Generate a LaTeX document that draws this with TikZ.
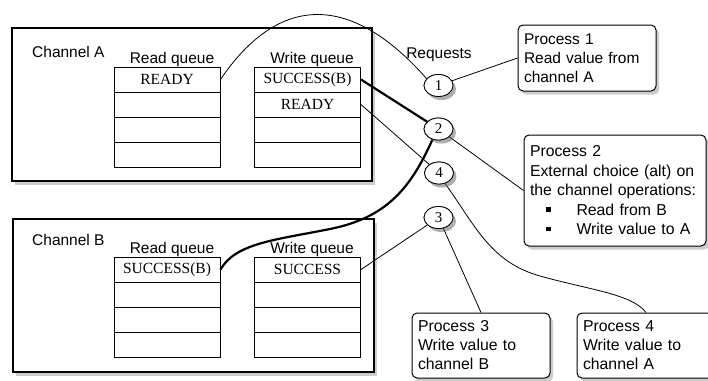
\documentclass[tikz,border=0pt]{standalone}
\usepackage{fontspec}
\setmainfont{Liberation Serif}
\setsansfont{Liberation Sans}
\usetikzlibrary{shapes.geometric}
\usetikzlibrary{shadows}

\tikzset{
    shade/.style={drop shadow={opacity=0.4,shadow xshift=3pt,shadow yshift=-3.5pt}},
    chanbox/.style={draw=black, line width=1.1pt, fill=white, shade},
    cell/.style={draw=black, line width=0.9pt, minimum width=106pt, minimum height=25pt,
        inner sep=0pt, font=\rmfamily\fontsize{15.5}{18}\selectfont},
    lbl/.style={inner sep=0pt, font=\sffamily\fontsize{15.5}{18}\selectfont},
    req/.style={ellipse, draw=black, line width=0.8pt, fill=white, minimum width=29pt,
        minimum height=22pt, inner sep=0pt, font=\rmfamily\fontsize{15}{18}\selectfont, shade},
    procbox/.style={draw=black, line width=1pt, fill=white, rounded corners=5pt, align=left,
        inner xsep=6pt, inner ysep=0pt, font=\sffamily\fontsize{15.5}{19}\selectfont, shade},
    link/.style={line width=0.8pt},
    boldlink/.style={line width=2.2pt}
}

\newcommand{\bulletitem}[1]{\hspace*{16pt}\rule[3.5pt]{4.5pt}{4.5pt}\hspace{26pt}#1}

\begin{document}
\begin{tikzpicture}[x=1pt,y=-1pt]
        \clip (0,0) rectangle (708,380);
        % channels
        \draw[chanbox] (12,28) rectangle (372,181);
        \draw[chanbox] (13,219) rectangle (374,372);
        \node[lbl, anchor=base west] (chA) at (32,57) {Channel A};
        \node[lbl, anchor=base west] (chB) at (32,245) {Channel B};
        \foreach \q/\x/\y/\ta/\tb in {rA/167/79.5/READY/, wA/307.5/79.5/SUCCESS(B)/READY,
                rB/167/269.5/SUCCESS(B)/, wB/307.5/269.5/SUCCESS/} {
                \node[cell] (\q1) at (\x,\y) {\ta};
                \node[cell] (\q2) at (\x,\y+25) {\tb};
                \node[cell] (\q3) at (\x,\y+50) {};
                \node[cell] (\q4) at (\x,\y+75) {};
            }
        \foreach \n/\y in {A/63, B/253} {
                \node[lbl, anchor=base] (rq\n) at (172,\y) {Read queue};
                \node[lbl, anchor=base] (wq\n) at (312,\y) {Write queue};
            }
        \node[lbl, anchor=base] (reqs) at (439,58) {Requests};

        % processes
        \node[procbox, text width=126pt, minimum height=66pt] (p1) at (587,58)
            {Process 1\\Read value from\\channel A};
        \node[procbox, text width=170pt, minimum height=111pt, font=\sffamily\fontsize{15.8}{19.5}\selectfont] (p2) at (615,190.5)
            {Process 2\\External choice (alt) on\\the channel operations:\\\bulletitem{Read from B}\\\bulletitem{Write value to A}};
        \node[procbox, text width=126pt, minimum height=65pt, font=\sffamily\fontsize{15.8}{19}\selectfont] (p3) at (481,345.5)
            {Process 3\\Write value to\\channel B};
        \node[procbox, text width=126pt, minimum height=65pt, font=\sffamily\fontsize{15.8}{19}\selectfont] (p4) at (646,345.5)
            {Process 4\\Write value to\\channel A};

        % requests
        \node[req] (c1) at (438.5,85.5) {1};
        \node[req] (c2) at (438.5,129) {2};
        \node[req] (c4) at (439,173) {4};
        \node[req] (c3) at (438.5,217.5) {3};

        \draw[link] (rA1.east) .. controls (280,-8) and (352,-6) .. (c1.150);
        \draw[link] (c1) -- (p1.west);
        \draw[boldlink] (wA1.east) -- (c2);
        \draw[link] (wA2.east) -- (c4);
        \draw[link] (c2) -- (p2.west);
        \draw[boldlink] (c2.240) .. controls (410,190) and (385,218) .. (330,229)
            .. controls (275,240) and (236,243) .. (rB1.east);
        \draw[link] (wB1.east) -- (c3);
        \draw[link] (c3) -- (p3.north);
        \draw[link] (c4.-60) .. controls (475,225) and (490,262) .. (540,276)
            .. controls (590,290) and (632,294) .. (p4.north);

        % circles on top of the lines
        \node[req] at (c1) {1};
        \node[req] at (c2) {2};
        \node[req] at (c4) {4};
        \node[req] at (c3) {3};
    \end{tikzpicture}
\end{document}
